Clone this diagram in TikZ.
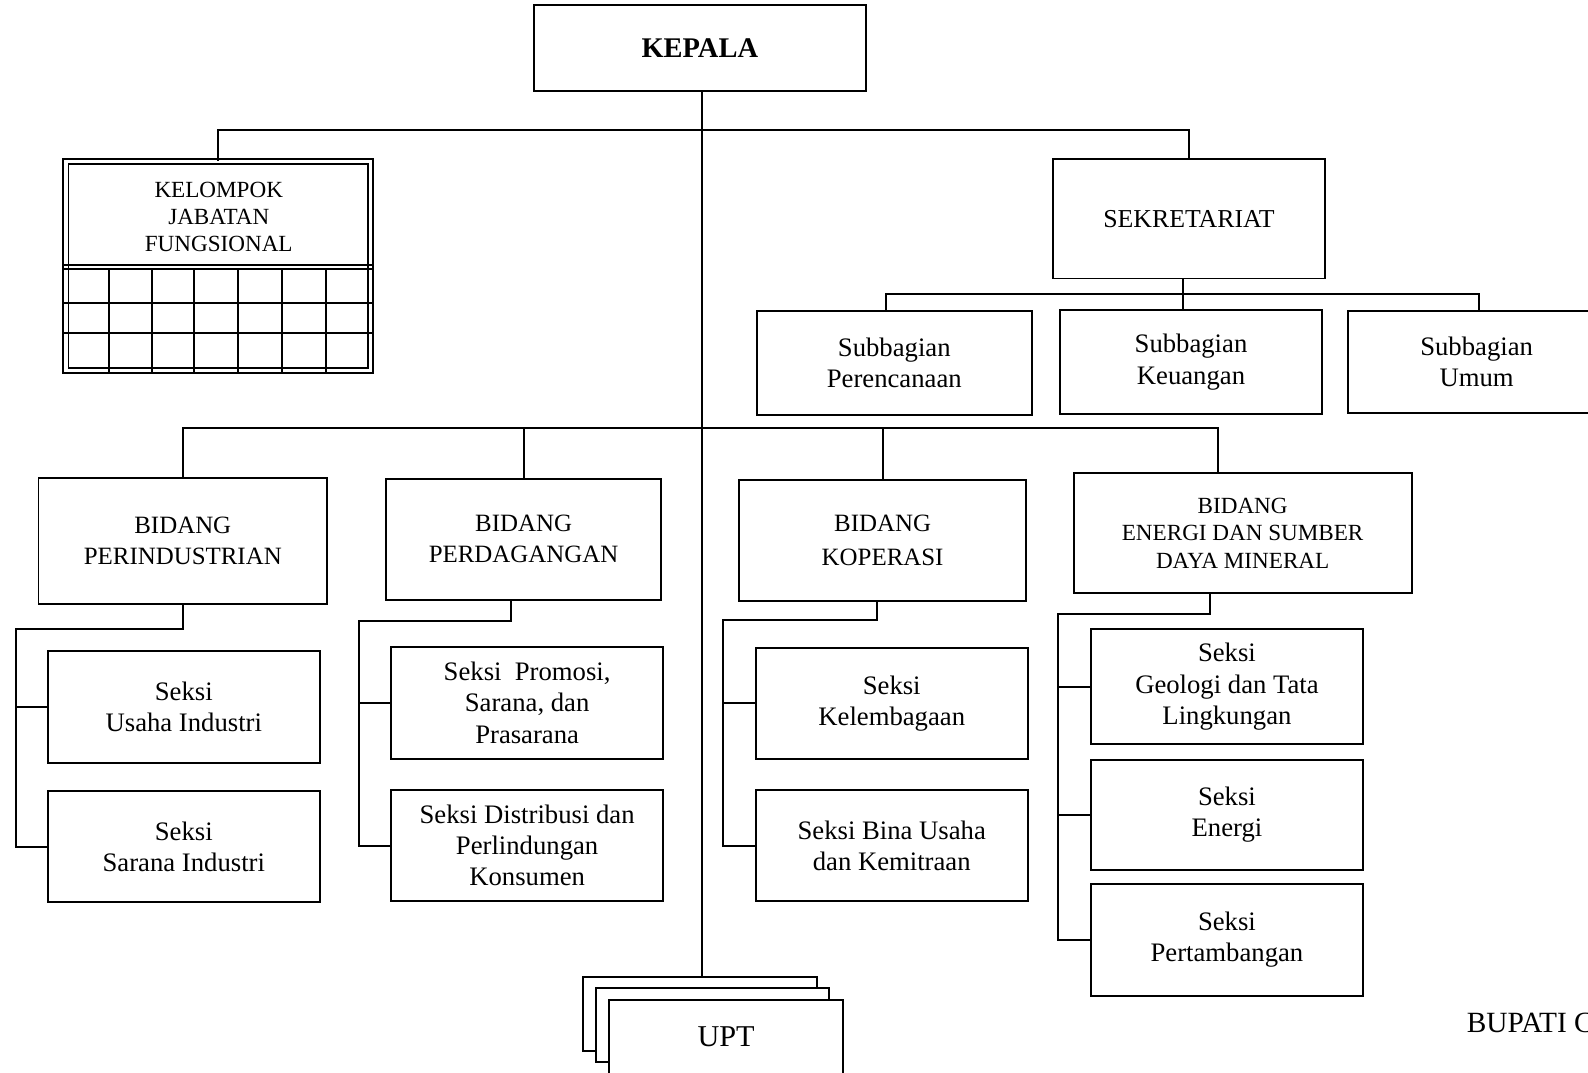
\documentclass[tikz,border=0pt]{standalone}
\usepackage{fontspec}
\setmainfont{Liberation Serif}
\usepackage{tikz}

\tikzset{
  unit/.style={draw, line width=1.1pt, fill=white, align=center, inner sep=2pt},
  link/.style={line width=1.1pt},
  kepalabox/.style={unit, font=\bfseries\fontsize{16}{19}\selectfont},
  bidangbox/.style={unit, font=\fontsize{14}{17.5}\selectfont},
  smallcaps/.style={font=\fontsize{13}{15.3}\selectfont, align=center},
  seksibox/.style={unit, minimum width=5.38cm, minimum height=2.2cm, font=\fontsize{15}{17.5}\selectfont},
  uptbox/.style={unit, minimum width=4.62cm, minimum height=1.46cm, font=\fontsize{17}{20}\selectfont},
}

\begin{document}
\begin{tikzpicture}[x=0.02cm, y=-0.02cm]

\useasboundingbox (0,0) rectangle (1568,1059);
\clip (0,0) rectangle (1568,1059);

\node[kepalabox, minimum width=6.56cm, minimum height=1.7cm] (kepala) at (691,47.5) {KEPALA};

% kelompok jabatan fungsional
\node[draw, line width=1.1pt, double=white, double distance between line centers=0.1cm,
      minimum width=6.02cm, minimum height=4.12cm] (jafung) at (215.6,262.8) {};
\node[smallcaps] (jafungtext) at (216,214) {KELOMPOK\\JABATAN\\FUNGSIONAL};
\draw[link] (63,261.7)--(368,261.7);
\draw[link] (63,265.9)--(368,265.9);
\foreach \a in {299.5,328.5}{
	\draw[link] (63,\a)--(368,\a);
}
\foreach \a in {108,150,192,235,278,322}{
	\draw[link] (\a,266)--(\a,368);
}

\node[unit, minimum width=5.36cm, minimum height=2.36cm, font=\fontsize{14.5}{17}\selectfont] (sekre) at (1174,216) {SEKRETARIAT};

\node[seksibox, minimum width=5.44cm, minimum height=2.06cm] (renc) at (883,358.5) {Subbagian\\Perencanaan};
\node[seksibox, minimum width=5.16cm, minimum height=2.06cm] (keu) at (1176,357.5) {Subbagian\\Keuangan};
\node[seksibox, minimum width=5.08cm, minimum height=2.02cm] (umum) at (1458,357.5) {Subbagian\\Umum};

\node[bidangbox, minimum width=5.7cm, minimum height=2.48cm] (perind) at (180.5,534) {BIDANG\\PERINDUSTRIAN};
\node[bidangbox, minimum width=5.44cm, minimum height=2.38cm] (dagang) at (517,532.5) {BIDANG\\PERDAGANGAN};
\node[bidangbox, minimum width=5.66cm, minimum height=2.38cm] (koper) at (871.5,533.5) {BIDANG\\[2pt]KOPERASI};
\node[unit, smallcaps, minimum width=6.68cm, minimum height=2.38cm] (energi) at (1227,526.5) {BIDANG\\ENERGI DAN SUMBER\\DAYA MINERAL};

\node[seksibox] (usaha) at (181.5,698) {Seksi\\Usaha Industri};
\node[seksibox] (sarind) at (181.5,836) {Seksi\\Sarana Industri};

\node[seksibox] (promosi) at (520.5,694) {Seksi\ \ Promosi,\\Sarana, dan\\Prasarana};
\node[seksibox] (distrib) at (520.5,835) {Seksi Distribusi dan\\Perlindungan\\Konsumen};

\node[seksibox, minimum height=2.18cm] (lembaga) at (880.5,694.5) {Seksi\\Kelembagaan};
\node[seksibox] (binausaha) at (880.5,835) {Seksi Bina Usaha\\dan Kemitraan};

\node[seksibox, minimum height=2.28cm] (geologi) at (1211.5,678) {Seksi\\Geologi dan Tata\\Lingkungan};
\node[seksibox, minimum height=2.18cm] (seenergi) at (1211.5,804.5) {Seksi\\Energi};
\node[seksibox] (tambang) at (1211.5,928) {Seksi\\Pertambangan};

\node[uptbox] (uptc) at (691.5,1001.5) {};
\node[uptbox] (uptb) at (703.5,1012.5) {};
\node[uptbox] (upta) at (717,1024) {UPT};

\node[anchor=base west, inner sep=0pt, font=\fontsize{16.5}{19}\selectfont] (bupati) at (1448,1019) {BUPATI C};

% garis
\draw[link] ([xshift=0.04cm]kepala.south) -- ([xshift=0.04cm]kepala.south |- uptc.north);
\draw[link] (jafung.north) -- ++(0,-30.8) -| (sekre.north);

\draw[link] ([xshift=-0.12cm]sekre.south) -- ++(0,14) coordinate (subbus);
\draw[link] ([xshift=-0.16cm]renc.north) |- (subbus) -| ([xshift=0.04cm]umum.north);
\draw[link] ([xshift=-0.16cm]keu.north) -- ([xshift=-0.16cm]keu.north |- subbus);

\draw[link] (perind.north) -- ++(0,-48) coordinate (bidbus) -| ([xshift=-0.48cm]energi.north);
\draw[link] (dagang.north) -- (dagang.north |- bidbus);
\draw[link] (koper.north) -- (koper.north |- bidbus);

\draw[link] (perind.south) -- ++(0,24) -| ([xshift=-0.6cm]usaha.west) |- (sarind.west);
\draw[link] (usaha.west) -- ++(-30,0);

\draw[link] ([xshift=-0.24cm]dagang.south) -- ++(0,20) -| ([xshift=-0.62cm]promosi.west) |- (distrib.west);
\draw[link] (promosi.west) -- ++(-31,0);

\draw[link] ([xshift=-0.11cm]koper.south) -- ++(0,18) -| ([xshift=-0.62cm]lembaga.west) |- (binausaha.west);
\draw[link] (lembaga.west) -- ++(-31,0);

\draw[link] ([xshift=-0.64cm]energi.south) -- ++(0,19) -| ([xshift=-0.62cm]geologi.west) |- (tambang.west);
\draw[link] (geologi.west) -- ++(-31,0);
\draw[link] (seenergi.west) -- ++(-31,0);

\end{tikzpicture}
\end{document}
